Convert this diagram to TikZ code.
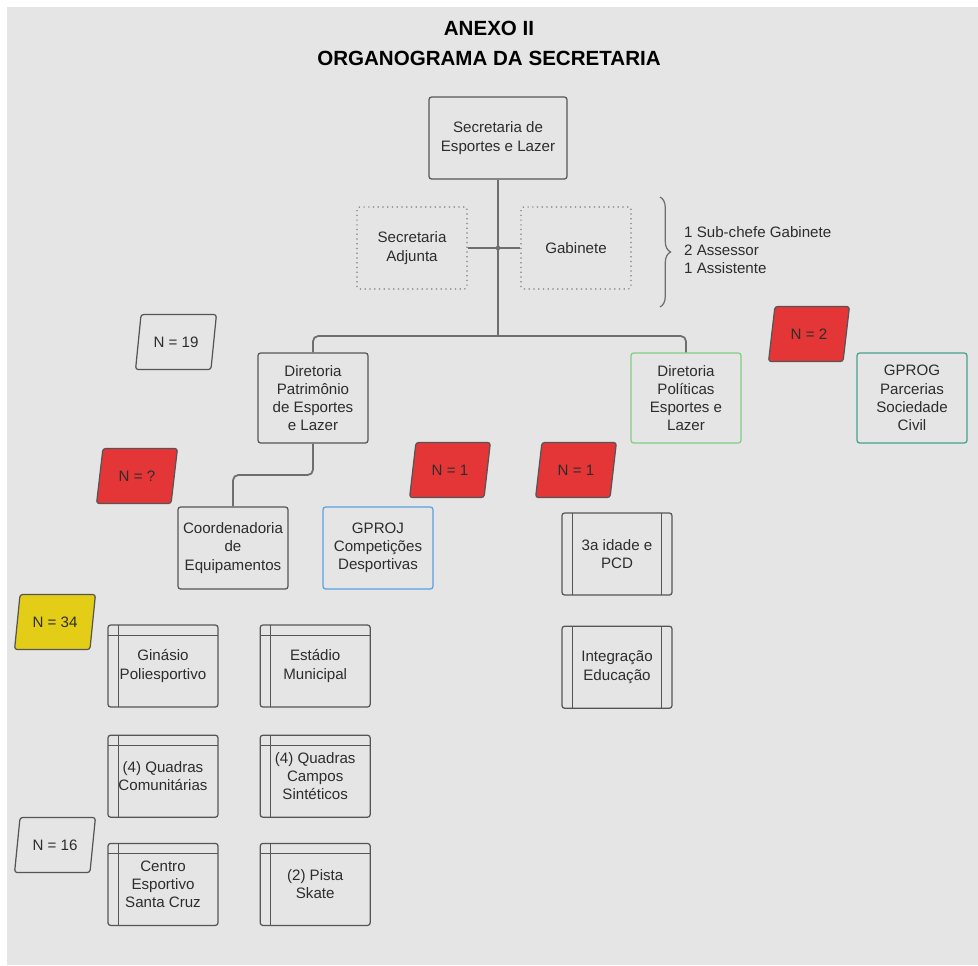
\documentclass[tikz,border=0pt]{standalone}
\usepackage{fontspec}
\setmainfont{Liberation Sans}
\usetikzlibrary{positioning, shapes.geometric, decorations.pathreplacing}
\definecolor{bg}{RGB}{229,229,229}
\definecolor{edge}{RGB}{85,85,85}
\definecolor{wire}{RGB}{110,110,110}
\definecolor{txt}{RGB}{45,45,45}
\definecolor{tagred}{RGB}{228,54,54}
\definecolor{tagyellow}{RGB}{228,205,22}
\definecolor{dirgreen}{RGB}{130,205,130}
\definecolor{projblue}{RGB}{90,160,230}
\definecolor{progteal}{RGB}{70,160,140}

\begin{document}
\begin{tikzpicture}[
  x=0.02cm, y=-0.02cm,
  font=\fontsize{8.6}{10.4}\selectfont, text=txt,
  box/.style={rectangle, rounded corners=1.5pt, draw=edge, line width=0.7pt, align=center, minimum width=2.2cm, minimum height=1.64cm, inner sep=2pt},
  dbox/.style={box, draw=edge!80, dotted, line width=0.6pt},
  dirbox/.style={box, minimum height=1.8cm},
  store/.style={box, path picture={
    \draw[edge, line width=0.5pt] ([xshift=0.21cm]path picture bounding box.north west) -- ([xshift=0.21cm]path picture bounding box.south west);
    \draw[edge, line width=0.5pt] ([yshift=-0.2cm]path picture bounding box.north west) -- ([yshift=-0.2cm]path picture bounding box.north east);}},
  proc/.style={box, path picture={
    \draw[edge, line width=0.5pt] ([xshift=0.2cm]path picture bounding box.north west) -- ([xshift=0.2cm]path picture bounding box.south west);
    \draw[edge, line width=0.5pt] ([xshift=-0.21cm]path picture bounding box.north east) -- ([xshift=-0.21cm]path picture bounding box.south east);}},
  tag/.style={trapezium, trapezium left angle=75, trapezium right angle=105, trapezium stretches=true, draw=edge, line width=0.7pt, rounded corners=1.5pt, minimum width=1.62cm, minimum height=1.1cm, inner sep=1pt},
  conn/.style={draw=wire, line width=1pt, rounded corners=3pt}
]
\useasboundingbox (0,0) rectangle (978,965);
\fill[white] (0,0) rectangle (978,965);
\fill[bg] (7,7) rectangle (978,965);

\node[font=\fontsize{11.7}{17}\selectfont\bfseries, text=black, align=center] (title) at (489,43) {ANEXO II\\ORGANOGRAMA DA SECRETARIA};

% top of the chart
\node[box, minimum width=2.76cm] (sec) at (498,138) {Secretaria de\\Esportes e Lazer};
\node[dbox] (adj) at (412,248) {Secretaria\\Adjunta};
\node[dbox] (gab) at (576,248) {Gabinete};
\node[align=left, anchor=west] (staff) at (678,250) {1 Sub-chefe Gabinete\\2 Assessor\\1 Assistente};
\coordinate (hub) at (498,336);
\draw[conn] (sec) -- (hub);
\draw[conn] (adj) -- (gab);
\fill[wire] (498,248) circle (1.3pt);
\draw[wire, line width=0.7pt, decorate, decoration={brace, amplitude=6pt}] (660,197) -- (660,307);

% directorates
\node[dirbox] (dirpat) at (313,398) {Diretoria\\Patrimônio\\de Esportes\\e Lazer};
\node[dirbox, draw=dirgreen] (dirpol) at (686,398) {Diretoria\\Políticas\\Esportes e\\Lazer};
\node[dirbox, draw=progteal] (gprog) at (912,398) {GPROG\\Parcerias\\Sociedade\\Civil};
\draw[conn] (hub) -| (dirpat);
\draw[conn] (hub) -| (dirpol);

\node[tag] (n19) at (176,342) {N = 19};
\node[tag, fill=tagred] (n2) at (809,334) {N = 2};
\node[tag, fill=tagred] (nq) at (137,476) {N = ?};
\node[tag, fill=tagred] (n1a) at (450,470) {N = 1};
\node[tag, fill=tagred] (n1b) at (576,470) {N = 1};

\node[box] (coord) at (233,548) {Coordenadoria\\de\\Equipamentos};
\node[box, draw=projblue] (gproj) at (378,548) {GPROJ\\Competições\\Desportivas};
\draw[conn] (dirpat) -- ++(0,77) -| (coord);

\node[proc] (idade) at (617,554) {3a idade e\\PCD};
\node[proc, below=0.6cm of idade] (integ) {Integração\\Educação};

% equipment
\node[tag, fill=tagyellow] (n34) at (55,622) {N = 34};
\node[tag] (n16) at (55,845) {N = 16};
\node[store] (gin) at (163,666) {Ginásio\\Poliesportivo};
\node[store, right=0.82cm of gin] (est) {Estádio\\Municipal};
\node[store, below=0.54cm of gin] (qcom) {(4) Quadras\\Comunitárias};
\node[store, right=0.82cm of qcom] (qsint) {(4) Quadras\\Campos\\Sintéticos};
\node[store, below=0.5cm of qcom] (centro) {Centro\\Esportivo\\Santa Cruz};
\node[store, right=0.82cm of centro] (skate) {(2) Pista\\Skate};
\end{tikzpicture}
\end{document}
